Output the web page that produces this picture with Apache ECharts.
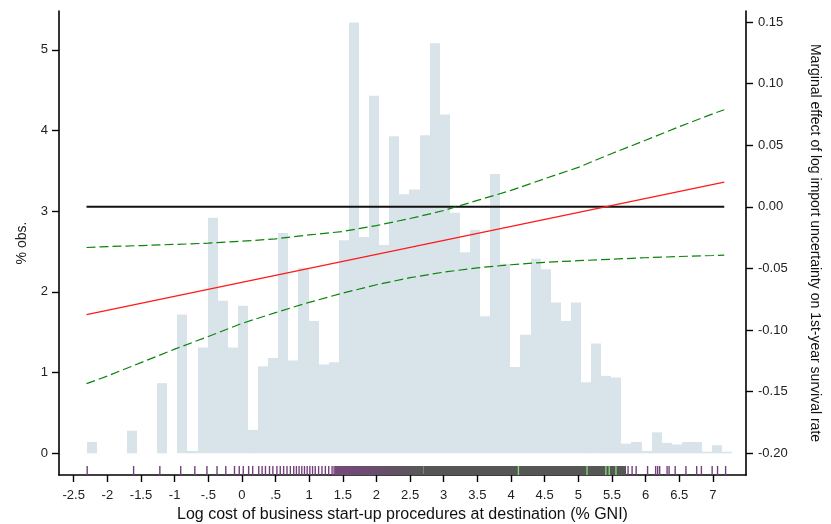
<!DOCTYPE html>
<html><head><meta charset="utf-8">
<script src="https://cdn.jsdelivr.net/npm/echarts@6/dist/echarts.min.js"></script>
<style>html,body{margin:0;padding:0;background:#fff}#c{width:831px;height:524px}</style>
</head><body><div id="c"></div>
<script>
// ---- data ----
const xTicks = [-2.5,-2,-1.5,-1,-0.5,0,0.5,1,1.5,2,2.5,3,3.5,4,4.5,5,5.5,6,6.5,7];
const xTickLabels = ['-2.5','-2','-1.5','-1','-.5','0','.5','1','1.5','2','2.5','3','3.5','4','4.5','5','5.5','6','6.5','7'];
const leftTicks = [0,1,2,3,4,5];
const leftTickLabels = ['0','1','2','3','4','5'];
const rightTicks = [-0.20,-0.15,-0.10,-0.05,0,0.05,0.10,0.15];
const rightTickLabels = ['-0.20','-0.15','-0.10','-0.05','0.00','0.05','0.10','0.15'];

const histStart = -2.31;
const histBinWidth = 0.15;
const histPct = [0.14,0,0,0,0.28,0,0,0.87,0,1.72,0.03,1.31,2.92,1.89,1.31,1.83,
  0.29,1.08,1.18,2.73,1.15,2.30,1.64,1.10,1.13,2.64,5.34,2.68,4.43,2.58,3.93,3.21,
  3.27,3.94,5.08,4.20,2.98,2.49,2.77,1.70,3.46,2.35,1.07,1.47,2.41,2.28,1.87,1.64,
  1.87,0.88,1.36,0.96,0.94,0.12,0.14,0.03,0.26,0.13,0.11,0.14,0.14,0.02,0.10,0.02];

const effectX = [-2.31, 7.17];
const effect = [-0.0875, 0.020];
const zeroLineX = [-2.31, 7.17];
const zeroLine = [0, 0];

const bandX = [-2.31,-2,-1.5,-1,-0.5,0,0.5,1,1.5,2,2.5,3,3.5,4,4.5,5,5.5,6,6.5,7,7.17];
const upperCI = [-0.0330,-0.0323,-0.0314,-0.0305,-0.0295,-0.0279,-0.0260,-0.0228,-0.0200,-0.0152,-0.0095,
  -0.0030,0.0052,0.0133,0.0228,0.0320,0.0433,0.0540,0.0650,0.0755,0.0788];
const lowerCI = [-0.1435,-0.1373,-0.1264,-0.1155,-0.1052,-0.0946,-0.0858,-0.0775,-0.0700,-0.0632,-0.0575,
  -0.0530,-0.0495,-0.0470,-0.0450,-0.0437,-0.0425,-0.0413,-0.0403,-0.0395,-0.0392];

const rugObs = [-2.30,-1.61,-1.22,-0.91,-0.70,-0.52,-0.37,-0.24,-0.11,-0.04,0.02,0.10,0.16,0.25,0.30,
  0.35,0.41,0.46,0.52,0.57,0.62,0.67,0.72,0.77,0.81,0.85,0.89,0.93,0.97,1.01,1.05,1.09,1.14,1.19,
  1.24,1.29,1.34,1.37,5.74,5.80,5.86,6.03,6.15,6.18,6.21,6.32,6.35,6.44,6.60,6.76,6.83,6.99,7.07,7.19];
const rugGreen = [4.11,5.13,5.41,5.46,5.56];
const rugDensePurple = [1.38, 2.70];
const rugDenseGray = [2.70, 5.71];

// ---- chart ----
const FONT = 'Liberation Sans, Arial, sans-serif';
const xMin = -2.719, xMax = 7.493;
const lMin = -0.2687, lMax = 5.481;
const rMin = -0.2176, rMax = 0.1589;
const RUG_H = 9;

function lab(vals, labels){
  return v => { for (let i=0;i<vals.length;i++) if (Math.abs(vals[i]-v)<1e-9) return labels[i]; return ''; };
}

const chart = echarts.init(document.getElementById('c'), null, {renderer:'canvas'});
const axisLineStyle = {color:'#000', width:1.6};

chart.setOption({
  animation:false,
  backgroundColor:'#fff',
  grid:{left:59, right:85, top:11, bottom:49, containLabel:false, outerBoundsMode:'none'},
  xAxis:{
    type:'value', min:xMin, max:xMax,
    axisLine:{show:true, onZero:false, lineStyle:axisLineStyle},
    axisTick:{show:true, inside:false, length:7, customValues:xTicks, lineStyle:{color:'#000', width:1.4}},
    axisLabel:{customValues:xTicks, formatter:lab(xTicks,xTickLabels), margin:14, fontSize:13, color:'#222', fontFamily:FONT},
    splitLine:{show:false},
    name:'Log cost of business start-up procedures at destination (% GNI)',
    nameLocation:'middle', nameGap:32,
    nameTextStyle:{fontSize:16, color:'#111', fontFamily:FONT}
  },
  yAxis:[{
    type:'value', position:'left', min:lMin, max:lMax,
    axisLine:{show:true, onZero:false, lineStyle:axisLineStyle},
    axisTick:{show:true, inside:false, length:7, customValues:leftTicks, lineStyle:{color:'#000', width:1.4}},
    axisLabel:{customValues:leftTicks, formatter:lab(leftTicks,leftTickLabels), margin:11, fontSize:13, color:'#222', fontFamily:FONT},
    splitLine:{show:false},
    name:'% obs.', nameLocation:'middle', nameGap:30, nameRotate:90,
    nameTextStyle:{fontSize:14, color:'#222', fontFamily:FONT}
  },{
    type:'value', position:'right', min:rMin, max:rMax,
    axisLine:{show:true, onZero:false, lineStyle:axisLineStyle},
    axisTick:{show:true, inside:false, length:7, customValues:rightTicks, lineStyle:{color:'#000', width:1.4}},
    axisLabel:{customValues:rightTicks, formatter:lab(rightTicks,rightTickLabels), margin:12, fontSize:13, color:'#222', fontFamily:FONT},
    splitLine:{show:false},
    name:'Marginal effect of log import uncertainty on 1st-year survival rate',
    nameLocation:'middle', nameGap:62, nameRotate:-90,
    nameTextStyle:{fontSize:14, color:'#111', fontFamily:FONT}
  }],
  series:[
    {
      type:'custom', yAxisIndex:0, z:1,
      data: histPct.map((v,i)=>[histStart+i*histBinWidth, histStart+(i+1)*histBinWidth, v]),
      encode:{x:[0,1], y:2},
      renderItem:(params, api)=>{
        const h = api.value(2);
        if (!(h>0)) return null;
        const p0 = api.coord([api.value(0), h]);
        const p1 = api.coord([api.value(1), 0]);
        const xa = Math.round(p0[0]), xb = Math.round(p1[0]);
        return {type:'rect', shape:{x:xa, y:p0[1], width:xb-xa, height:p1[1]-p0[1]},
          style:{fill:'#d9e4ea'}};
      }
    },
    {
      type:'custom', yAxisIndex:0, z:3,
      data: [rugDensePurple, rugDenseGray].map((r,i)=>[r[0], r[1], i]),
      encode:{x:[0,1]},
      renderItem:(params, api)=>{
        const a = api.coord([api.value(0), lMin]);
        const b = api.coord([api.value(1), lMin]);
        const fill = api.value(2)===0
          ? new echarts.graphic.LinearGradient(0,0,1,0,[{offset:0,color:'#76497c'},{offset:0.45,color:'#6a4d6c'},{offset:1,color:'#575757'}])
          : '#565656';
        return {type:'rect', shape:{x:a[0], y:a[1]-RUG_H, width:b[0]-a[0], height:RUG_H}, style:{fill:fill}};
      }
    },
    {
      type:'custom', yAxisIndex:0, z:4,
      data: rugObs.map(x=>[x]),
      encode:{x:0},
      renderItem:(params, api)=>{
        const p = api.coord([api.value(0), lMin]);
        return {type:'line', shape:{x1:p[0], y1:p[1], x2:p[0], y2:p[1]-RUG_H},
          style:{stroke:'#74407c', lineWidth:1.4}};
      }
    },
    {
      type:'custom', yAxisIndex:0, z:5,
      data: rugGreen.map(x=>[x]),
      encode:{x:0},
      renderItem:(params, api)=>{
        const p = api.coord([api.value(0), lMin]);
        return {type:'line', shape:{x1:p[0], y1:p[1], x2:p[0], y2:p[1]-RUG_H},
          style:{stroke:'#86dd74', lineWidth:1.3}};
      }
    },
    {
      type:'line', yAxisIndex:1, z:6, symbol:'none', silent:true,
      data: zeroLineX.map((x,i)=>[x, zeroLine[i]]),
      lineStyle:{color:'#111', width:2}
    },
    {
      type:'line', yAxisIndex:1, z:7, symbol:'none', silent:true,
      data: bandX.map((x,i)=>[x, upperCI[i]]),
      lineStyle:{color:'#0a840a', width:1.2, type:[9,4]}
    },
    {
      type:'line', yAxisIndex:1, z:7, symbol:'none', silent:true,
      data: bandX.map((x,i)=>[x, lowerCI[i]]),
      lineStyle:{color:'#0a840a', width:1.2, type:[9,4]}
    },
    {
      type:'line', yAxisIndex:1, z:8, symbol:'none', silent:true,
      data: effectX.map((x,i)=>[x, effect[i]]),
      lineStyle:{color:'#ff1a1a', width:1.4}
    }
  ]
});
</script>
</body></html>
